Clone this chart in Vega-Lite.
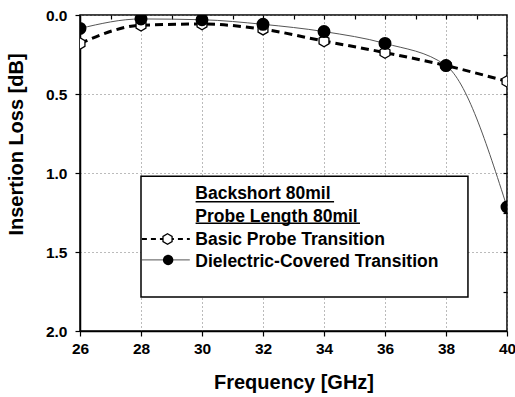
{
  "$schema": "https://vega.github.io/schema/vega-lite/v6.json",
  "width": 427,
  "height": 316,
  "autosize": "none",
  "padding": {"left": 80, "top": 15, "right": 8, "bottom": 66},
  "background": "white",
  "config": {
    "view": {"stroke": "black", "strokeWidth": 1.5},
    "font": "Liberation Sans",
    "axis": {
      "domainColor": "black", "domainWidth": 1.5, "tickColor": "black", "tickWidth": 1.2,
      "labelFont": "Liberation Sans", "labelFontWeight": "bold", "labelFontSize": 15.5, "labelColor": "black",
      "labelFlush": false, "labelOverlap": false,
      "titleFont": "Liberation Sans", "titleFontWeight": "bold", "titleFontSize": 20, "titleColor": "black",
      "gridColor": "#777777", "gridDash": [1, 3], "gridWidth": 1
    }
  },
  "datasets": {
    "curves": [
      {"series": "Basic Probe Transition", "f": 26, "loss": 0.18},
      {"series": "Basic Probe Transition", "f": 28, "loss": 0.065},
      {"series": "Basic Probe Transition", "f": 30, "loss": 0.057},
      {"series": "Basic Probe Transition", "f": 32, "loss": 0.09},
      {"series": "Basic Probe Transition", "f": 34, "loss": 0.165},
      {"series": "Basic Probe Transition", "f": 36, "loss": 0.238},
      {"series": "Basic Probe Transition", "f": 38, "loss": 0.32},
      {"series": "Basic Probe Transition", "f": 40, "loss": 0.42},
      {"series": "Dielectric-Covered Transition", "f": 26, "loss": 0.085},
      {"series": "Dielectric-Covered Transition", "f": 28, "loss": 0.025},
      {"series": "Dielectric-Covered Transition", "f": 30, "loss": 0.03},
      {"series": "Dielectric-Covered Transition", "f": 32, "loss": 0.059},
      {"series": "Dielectric-Covered Transition", "f": 34, "loss": 0.105},
      {"series": "Dielectric-Covered Transition", "f": 36, "loss": 0.18},
      {"series": "Dielectric-Covered Transition", "f": 38, "loss": 0.32},
      {"series": "Dielectric-Covered Transition", "f": 40, "loss": 1.215}
    ],
    "box": [{"f": 28, "f2": 38.72, "loss": 1.02, "loss2": 1.785}],
    "legLines": [
      {"series": "Basic Probe Transition", "f": 28.03, "loss": 1.418},
      {"series": "Basic Probe Transition", "f": 29.6, "loss": 1.418},
      {"series": "Dielectric-Covered Transition", "f": 28.03, "loss": 1.55},
      {"series": "Dielectric-Covered Transition", "f": 29.6, "loss": 1.55}
    ],
    "legSymbols": [
      {"series": "Basic Probe Transition", "f": 28.87, "loss": 1.418},
      {"series": "Dielectric-Covered Transition", "f": 28.89, "loss": 1.55}
    ],
    "legText": [
      {"t": "Backshort 80mil", "f": 29.78, "loss": 1.166},
      {"t": "Probe Length 80mil", "f": 29.78, "loss": 1.308},
      {"t": "Basic Probe Transition", "f": 29.78, "loss": 1.456},
      {"t": "Dielectric-Covered Transition", "f": 29.78, "loss": 1.593}
    ],
    "underlines": [
      {"f": 29.79, "f2": 34.33, "loss": 1.182},
      {"f": 29.79, "f2": 35.18, "loss": 1.318}
    ]
  },
  "resolve": {"axis": {"x": "independent", "y": "independent"}},
  "layer": [
    {
      "data": {"name": "curves"},
      "mark": {"type": "point", "opacity": 0},
      "encoding": {
        "x": {"field": "f", "type": "quantitative",
          "scale": {"domain": [26, 40], "nice": false, "zero": false},
          "axis": {"orient": "bottom", "values": [26, 28, 30, 32, 34, 36, 38, 40], "grid": true, "tickSize": 5, "labelPadding": 5,
            "title": "Frequency [GHz]", "titleY": 51, "titleBaseline": "middle"}},
        "y": {"field": "loss", "type": "quantitative",
          "scale": {"domain": [0, 2], "reverse": true, "nice": false, "zero": false},
          "axis": {"orient": "left", "values": [0, 0.5, 1, 1.5, 2], "format": ".1f", "grid": true, "tickSize": 5, "labelPadding": 8,
            "title": "Insertion Loss [dB]", "titleX": -64, "titleY": 129, "titleAngle": 270, "titleAlign": "center", "titleBaseline": "middle"}}
      }
    },
    {
      "data": {"name": "curves"},
      "mark": {"type": "point", "opacity": 0},
      "encoding": {
        "x": {"field": "f", "type": "quantitative",
          "axis": {"orient": "top", "values": [27, 28, 29, 30, 31, 32, 33, 34, 35, 36, 37, 38, 39], "labels": false, "title": null, "domain": false, "tickSize": 4, "offset": -4, "grid": false}},
        "y": {"field": "loss", "type": "quantitative",
          "axis": {"orient": "right", "values": [0.25, 0.5, 0.75, 1, 1.25, 1.5, 1.75], "labels": false, "title": null, "domain": false, "tickSize": 4, "offset": -4, "grid": false}}
      }
    },
    {
      "data": {"name": "curves"},
      "transform": [{"filter": "datum.series === 'Basic Probe Transition'"}],
      "mark": {"type": "line", "interpolate": "monotone", "stroke": "black", "strokeWidth": 3, "strokeDash": [8, 5], "clip": true},
      "encoding": {
        "x": {"field": "f", "type": "quantitative", "axis": null},
        "y": {"field": "loss", "type": "quantitative", "axis": null}
      }
    },
    {
      "data": {"name": "curves"},
      "transform": [{"filter": "datum.series === 'Dielectric-Covered Transition'"}],
      "mark": {"type": "line", "interpolate": "monotone", "stroke": "#555555", "strokeWidth": 1, "clip": true},
      "encoding": {
        "x": {"field": "f", "type": "quantitative", "axis": null},
        "y": {"field": "loss", "type": "quantitative", "axis": null}
      }
    },
    {
      "data": {"name": "curves"},
      "transform": [{"filter": "datum.series === 'Basic Probe Transition'"}],
      "mark": {"type": "point", "shape": "M0,-1L0.866,-0.5L0.866,0.5L0,1L-0.866,0.5L-0.866,-0.5Z", "filled": true, "fill": "white", "stroke": "black", "strokeWidth": 1.3, "size": 130, "opacity": 1, "clip": true},
      "encoding": {
        "x": {"field": "f", "type": "quantitative", "axis": null},
        "y": {"field": "loss", "type": "quantitative", "axis": null}
      }
    },
    {
      "data": {"name": "curves"},
      "transform": [{"filter": "datum.series === 'Dielectric-Covered Transition'"}],
      "mark": {"type": "point", "shape": "circle", "filled": true, "fill": "black", "stroke": "black", "size": 120, "opacity": 1, "clip": true},
      "encoding": {
        "x": {"field": "f", "type": "quantitative", "axis": null},
        "y": {"field": "loss", "type": "quantitative", "axis": null}
      }
    },
    {
      "data": {"name": "box"},
      "mark": {"type": "rect", "fill": "white", "stroke": "black", "strokeWidth": 1.5},
      "encoding": {
        "x": {"field": "f", "type": "quantitative", "axis": null},
        "x2": {"field": "f2"},
        "y": {"field": "loss", "type": "quantitative", "axis": null},
        "y2": {"field": "loss2"}
      }
    },
    {
      "data": {"name": "legLines"},
      "transform": [{"filter": "datum.series === 'Basic Probe Transition'"}],
      "mark": {"type": "line", "stroke": "black", "strokeWidth": 2, "strokeDash": [5, 4]},
      "encoding": {
        "x": {"field": "f", "type": "quantitative", "axis": null},
        "y": {"field": "loss", "type": "quantitative", "axis": null}
      }
    },
    {
      "data": {"name": "legLines"},
      "transform": [{"filter": "datum.series === 'Dielectric-Covered Transition'"}],
      "mark": {"type": "line", "stroke": "#555555", "strokeWidth": 1},
      "encoding": {
        "x": {"field": "f", "type": "quantitative", "axis": null},
        "y": {"field": "loss", "type": "quantitative", "axis": null}
      }
    },
    {
      "data": {"name": "legSymbols"},
      "transform": [{"filter": "datum.series === 'Basic Probe Transition'"}],
      "mark": {"type": "point", "shape": "M0,-1L0.866,-0.5L0.866,0.5L0,1L-0.866,0.5L-0.866,-0.5Z", "filled": true, "fill": "white", "stroke": "black", "strokeWidth": 1.3, "size": 110, "opacity": 1},
      "encoding": {
        "x": {"field": "f", "type": "quantitative", "axis": null},
        "y": {"field": "loss", "type": "quantitative", "axis": null}
      }
    },
    {
      "data": {"name": "legSymbols"},
      "transform": [{"filter": "datum.series === 'Dielectric-Covered Transition'"}],
      "mark": {"type": "point", "shape": "circle", "filled": true, "fill": "black", "size": 110, "opacity": 1},
      "encoding": {
        "x": {"field": "f", "type": "quantitative", "axis": null},
        "y": {"field": "loss", "type": "quantitative", "axis": null}
      }
    },
    {
      "data": {"name": "legText"},
      "mark": {"type": "text", "align": "left", "baseline": "alphabetic", "font": "Liberation Sans", "fontWeight": "bold", "fontSize": 17.5, "color": "black"},
      "encoding": {
        "x": {"field": "f", "type": "quantitative", "axis": null},
        "y": {"field": "loss", "type": "quantitative", "axis": null},
        "text": {"field": "t"}
      }
    },
    {
      "data": {"name": "underlines"},
      "mark": {"type": "rule", "stroke": "black", "strokeWidth": 1.5},
      "encoding": {
        "x": {"field": "f", "type": "quantitative", "axis": null},
        "x2": {"field": "f2"},
        "y": {"field": "loss", "type": "quantitative", "axis": null}
      }
    }
  ]
}
